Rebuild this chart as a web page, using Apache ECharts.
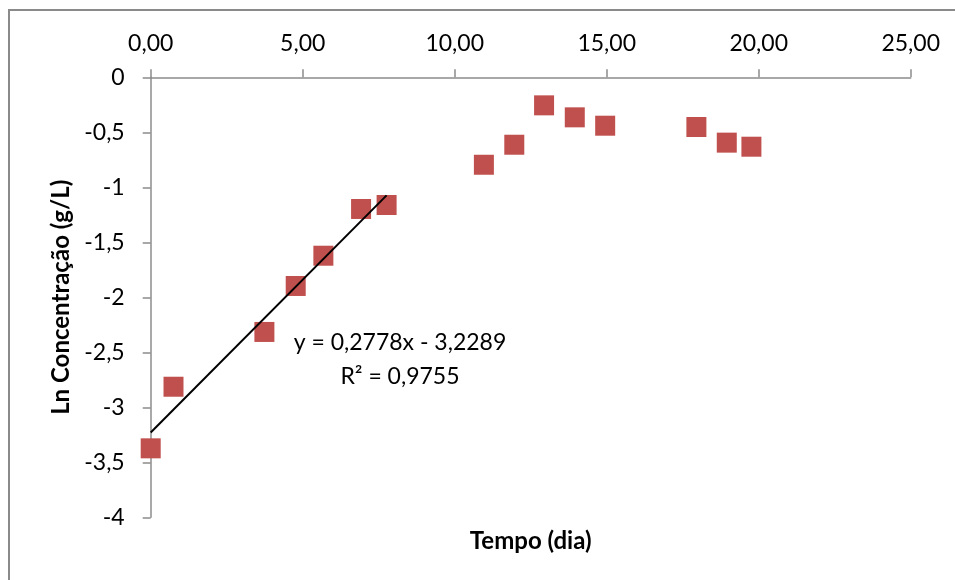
<!DOCTYPE html>
<html>
<head>
<meta charset="utf-8">
<script src="https://cdn.jsdelivr.net/npm/echarts@6/dist/echarts.min.js"></script>
<style>
  html, body { margin: 0; padding: 0; background: #fff; }
  #chart { width: 955px; height: 580px; }
</style>
</head>
<body>
<div id="chart"></div>
<script>
// Tempo (dia) and Ln of concentration (g/L) for each sample
const tempoDias = [0, 0.75, 3.74, 4.77, 5.68, 6.92, 7.76, 10.96, 11.96, 12.94, 13.95, 14.95, 17.95, 18.95, 19.76];
const lnConcentracao = [-3.373, -2.813, -2.315, -1.897, -1.622, -1.197, -1.161, -0.795, -0.613, -0.255, -0.364, -0.44, -0.452, -0.594, -0.631];

// Linear fit over the exponential-growth phase (first 7 samples)
const pontosAjustados = 7;
const inclinacao = 0.2778;
const intercepto = -3.2289;
const r2 = 0.9755;

// Where the fit equation is written, in data units
const posEquacao = [8.2, -2.565];

const fmt = (v, d) => v.toFixed(d).replace('.', ',');

const pontos = tempoDias.map((x, i) => [x, lnConcentracao[i]]);
const xsAjuste = tempoDias.slice(0, pontosAjustados);
const xIni = Math.min(...xsAjuste), xFim = Math.max(...xsAjuste);
const linhaTendencia = [
  [xIni, inclinacao * xIni + intercepto],
  [xFim, inclinacao * xFim + intercepto]
];
const equacao = 'y = ' + fmt(inclinacao, 4) + 'x - ' + fmt(Math.abs(intercepto), 4) +
  '\nR² = ' + fmt(r2, 4);

const FONT = 'Lato, "Open Sans", sans-serif';
const AXIS_GRAY = '#8c8c8c';

const chart = echarts.init(document.getElementById('chart'), null, { renderer: 'canvas' });
chart.setOption({
  animation: false,
  backgroundColor: '#ffffff',
  textStyle: { fontFamily: FONT },
  graphic: [{
    type: 'rect',
    shape: { x: 9, y: 10, width: 1000, height: 700 },
    style: { fill: 'none', stroke: '#8a8a8a', lineWidth: 2 },
    silent: true,
    z: -10
  }],
  grid: { left: 150.7, right: 44.3, top: 77.3, bottom: 62.7, containLabel: false },
  xAxis: [{
    type: 'value',
    position: 'top',
    min: 0, max: 25, interval: 5,
    axisLine: { show: true, onZero: false, lineStyle: { color: AXIS_GRAY, width: 1.5 } },
    axisTick: { show: true, inside: false, length: 8, lineStyle: { color: AXIS_GRAY, width: 1.5 } },
    axisLabel: { margin: 22, color: '#000', fontSize: 23, fontFamily: FONT, formatter: v => fmt(v, 2) },
    splitLine: { show: false }
  }, {
    type: 'value',
    position: 'bottom',
    min: 0, max: 25,
    axisLine: { show: false },
    axisTick: { show: false },
    axisLabel: { show: false },
    splitLine: { show: false },
    name: 'Tempo (dia)',
    nameLocation: 'middle',
    nameGap: 12,
    nameTextStyle: { color: '#000', fontSize: 24, fontWeight: 'bold', fontFamily: FONT, verticalAlign: 'top' }
  }],
  yAxis: {
    type: 'value',
    min: -4, max: 0, interval: 0.5,
    axisLine: { show: true, onZero: false, lineStyle: { color: AXIS_GRAY, width: 1.5 } },
    axisTick: { show: true, inside: false, length: 8, lineStyle: { color: AXIS_GRAY, width: 1.5 } },
    axisLabel: { margin: 26, color: '#000', fontSize: 23, fontFamily: FONT, formatter: v => String(v).replace('.', ',') },
    splitLine: { show: false },
    name: 'Ln Concentração (g/L)',
    nameLocation: 'middle',
    nameGap: 40,
    nameRotate: 90,
    nameTextStyle: { color: '#000', fontSize: 24, fontWeight: 'bold', fontFamily: FONT }
  },
  series: [{
    type: 'scatter',
    xAxisIndex: 0,
    data: pontos,
    symbol: 'rect',
    symbolSize: 20,
    itemStyle: { color: '#C0504D', opacity: 1 },
    z: 3
  }, {
    type: 'line',
    xAxisIndex: 0,
    data: linhaTendencia,
    symbol: 'none',
    lineStyle: { color: '#000', width: 2 },
    z: 4
  }, {
    // fit equation and R², written next to the trend line
    type: 'scatter',
    xAxisIndex: 0,
    data: [posEquacao],
    symbol: 'circle',
    symbolSize: 2,
    itemStyle: { color: 'rgba(255,255,255,0)', opacity: 1 },
    silent: true,
    z: 5,
    label: {
      show: true,
      position: 'inside',
      formatter: () => equacao,
      color: '#000',
      fontSize: 23,
      fontFamily: FONT,
      align: 'center',
      verticalAlign: 'middle',
      lineHeight: 34,
      opacity: 1
    }
  }]
});
</script>
</body>
</html>
